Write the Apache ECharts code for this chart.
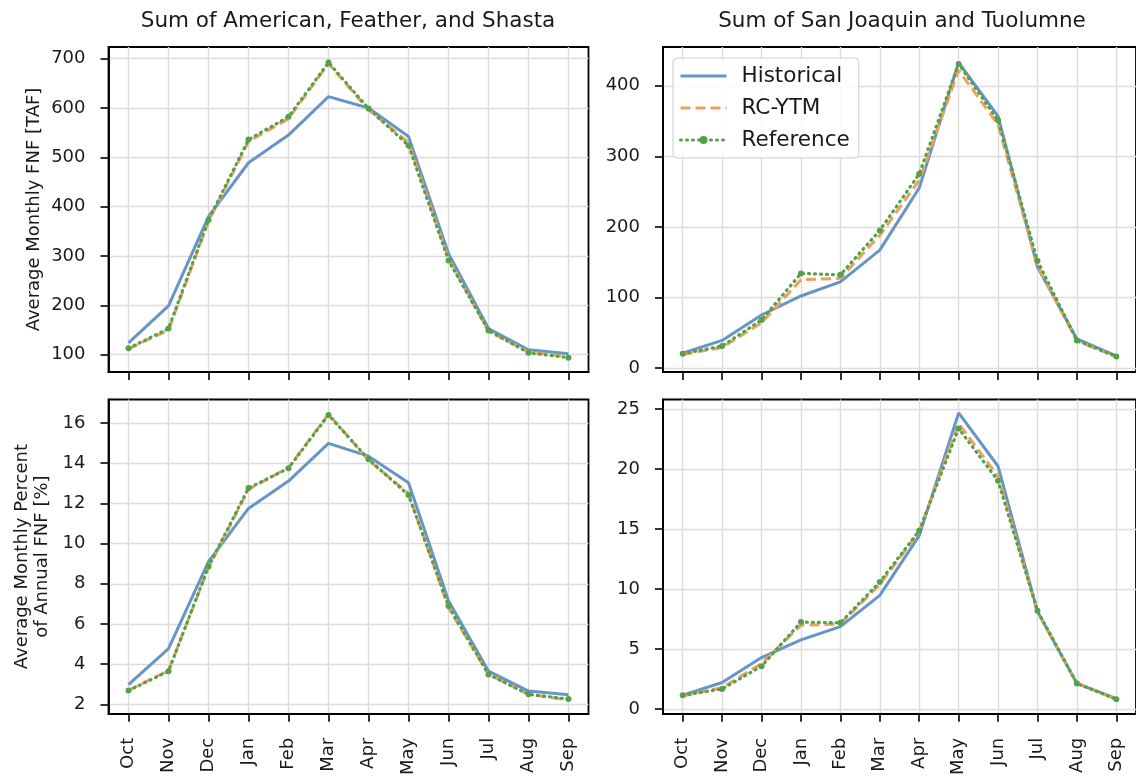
<!DOCTYPE html>
<html>
<head>
<meta charset="utf-8">
<script src="https://cdn.jsdelivr.net/npm/echarts@6/dist/echarts.min.js"></script>
<style>
html,body{margin:0;padding:0;background:#fff;}
#chart{width:1136px;height:778px;}
</style>
</head>
<body>
<div id="chart"></div>
<script>
const months = ['Oct','Nov','Dec','Jan','Feb','Mar','Apr','May','Jun','Jul','Aug','Sep'];
const seriesNames = ['Historical', 'RC-YTM', 'Reference'];
const titles = ['Sum of American, Feather, and Shasta', 'Sum of San Joaquin and Tuolumne'];
const yNames = ['Average Monthly FNF [TAF]', 'Average Monthly Percent\nof Annual FNF [%]'];

// Top-left: Sum of American, Feather, and Shasta [TAF]
const histAFS = [124, 199, 380, 489, 545, 623, 600, 542, 305, 153, 110, 102];
const rcAFS   = [112, 150, 370, 532, 578, 690, 596, 530, 295, 147, 106, 96];
const refAFS  = [113, 153, 373, 536, 582, 692, 599, 524, 291, 149, 104, 94];
// Top-right: Sum of San Joaquin and Tuolumne [TAF]
const histSJT = [21, 39, 75, 102, 122, 167, 255, 433, 357, 143, 41, 17];
const rcSJT   = [19, 29, 64, 125, 127, 188, 266, 422, 345, 145, 38, 16];
const refSJT  = [20, 31, 68, 134, 132, 195, 275, 431, 351, 152, 39, 16];
// Bottom-left: percent of annual FNF
const histAFSpct = [2.98, 4.77, 9.1, 11.75, 13.11, 14.99, 14.35, 13.03, 7.15, 3.65, 2.66, 2.48];
const rcAFSpct   = [2.70, 3.68, 8.8, 12.70, 13.78, 16.45, 14.15, 12.50, 6.80, 3.50, 2.50, 2.22];
const refAFSpct  = [2.69, 3.65, 8.86, 12.76, 13.75, 16.40, 14.20, 12.42, 6.89, 3.49, 2.50, 2.26];
// Bottom-right: percent of annual FNF
const histSJTpct = [1.16, 2.23, 4.3, 5.78, 6.88, 9.49, 14.46, 24.68, 20.24, 8.15, 2.15, 0.89];
const rcSJTpct   = [1.10, 1.80, 3.8, 7.00, 7.10, 10.40, 14.80, 23.80, 19.40, 8.10, 2.15, 0.85];
const refSJTpct  = [1.16, 1.69, 3.58, 7.26, 7.20, 10.60, 14.87, 23.39, 19.03, 8.20, 2.15, 0.83];

// Tick labels
const ticksAFS = [100, 200, 300, 400, 500, 600, 700];
const ticksSJT = [0, 100, 200, 300, 400];
const ticksAFSpct = [2, 4, 6, 8, 10, 12, 14, 16];
const ticksSJTpct = [0, 5, 10, 15, 20, 25];

const FONT = 'DejaVu Sans';
const TXT = '#1a1a1a';

const panels = [
  {grid: {left: 108.5, top: 47, width: 480, height: 325}, min: 65, max: 723.5, split: 5, ticks: ticksAFS, data: [histAFS, rcAFS, refAFS], showX: false, yName: yNames[0], nameGap: 64},
  {grid: {left: 663, top: 47, width: 478, height: 325}, min: -5.8, max: 455, split: 5, ticks: ticksSJT, data: [histSJT, rcSJT, refSJT], showX: false, yName: '', nameGap: 0},
  {grid: {left: 108.5, top: 399.5, width: 480, height: 321.5}, min: 1.53, max: 17.17, split: 8, ticks: ticksAFSpct, data: [histAFSpct, rcAFSpct, refAFSpct], showX: true, yName: yNames[1], nameGap: 56},
  {grid: {left: 663, top: 399.5, width: 478, height: 321.5}, min: -0.38, max: 25.8, split: 5, ticks: ticksSJTpct, data: [histSJTpct, rcSJTpct, refSJTpct], showX: true, yName: '', nameGap: 0}
];

const styles = [
  {color: '#6795c8', lineStyle: {width: 3, type: 'solid'}, symbol: 'none'},
  {color: '#eba25e', lineStyle: {width: 3, type: [10, 5]}, symbol: 'none'},
  {color: '#55a049', lineStyle: {width: 3.2, type: [1, 5], cap: 'round'}, symbol: 'circle', symbolSize: 6}
];

const grids = [], xAxes = [], yAxes = [], series = [];
panels.forEach((p, i) => {
  grids.push(Object.assign({show: true, borderColor: '#000', borderWidth: 1.8, backgroundColor: 'transparent', containLabel: false}, p.grid));
  xAxes.push({
    type: 'category', gridIndex: i, data: months, boundaryGap: true,
    axisLine: {show: true, onZero: false, lineStyle: {color: '#000', width: 1.8}},
    axisTick: {show: true, alignWithLabel: true, inside: false, length: 8, lineStyle: {color: '#000', width: 1.6}},
    axisLabel: {show: p.showX, rotate: 90, margin: 24, fontSize: 18, fontFamily: FONT, color: TXT, interval: 0},
    splitLine: {show: true, alignWithLabel: true, lineStyle: {color: '#dcdcdc', width: 1.4}}
  });
  yAxes.push({
    type: 'value', gridIndex: i, min: p.min, max: p.max, splitNumber: p.split,
    name: p.yName, nameLocation: 'middle', nameGap: p.nameGap,
    nameTextStyle: {fontSize: 18, fontFamily: FONT, color: TXT, lineHeight: 20},
    axisLine: {show: true, onZero: false, lineStyle: {color: '#000', width: 1.8}},
    axisTick: {show: true, inside: false, length: 8, customValues: p.ticks, lineStyle: {color: '#000', width: 1.6}},
    axisLabel: {show: true, margin: 23, fontSize: 18, fontFamily: FONT, color: TXT, customValues: p.ticks},
    splitLine: {show: true, lineStyle: {color: '#dcdcdc', width: 1.4}}
  });
  p.data.forEach((vals, k) => {
    const st = styles[k];
    series.push({
      type: 'line', name: seriesNames[k], xAxisIndex: i, yAxisIndex: i, data: vals,
      symbol: st.symbol, symbolSize: st.symbolSize || 0, showSymbol: st.symbol !== 'none',
      itemStyle: {color: st.color},
      lineStyle: Object.assign({color: st.color}, st.lineStyle),
      z: 3 + k, silent: true
    });
  });
});

const chart = echarts.init(document.getElementById('chart'), null, {renderer: 'canvas'});
chart.setOption({
  animation: false,
  backgroundColor: '#fff',
  grid: grids, xAxis: xAxes, yAxis: yAxes, series: series,
  legend: {
    data: [
      {name: seriesNames[0], itemStyle: {opacity: 0}},
      {name: seriesNames[1], itemStyle: {opacity: 0}},
      {name: seriesNames[2]}
    ],
    orient: 'vertical', left: 673, top: 58,
    padding: [7, 9, 7, 6], itemWidth: 46, itemHeight: 10, itemGap: 10,
    lineStyle: {width: 3},
    backgroundColor: 'rgba(255,255,255,0.85)', borderColor: '#cccccc', borderWidth: 1, borderRadius: 4,
    textStyle: {fontSize: 21.5, fontFamily: FONT, color: TXT, padding: [0, 0, 0, 10]}
  },
  graphic: [
    {type: 'text', style: {text: titles[0], font: '21.5px "DejaVu Sans"', fill: TXT, textAlign: 'center', textVerticalAlign: 'middle', x: 348, y: 21}},
    {type: 'text', style: {text: titles[1], font: '21.5px "DejaVu Sans"', fill: TXT, textAlign: 'center', textVerticalAlign: 'middle', x: 902, y: 21}}
  ]
});
</script>
</body>
</html>
